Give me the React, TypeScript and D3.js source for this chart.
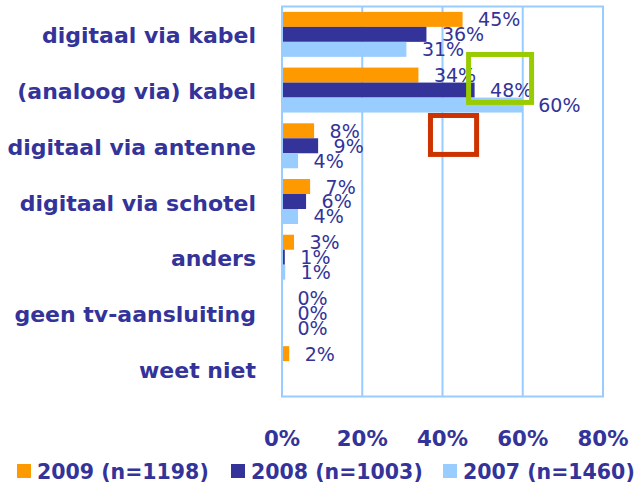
import React, { useEffect, useRef } from 'react';
import * as d3 from 'd3';

// categories (top to bottom)
const categories = [
  'digitaal via kabel',
  '(analoog via) kabel',
  'digitaal via antenne',
  'digitaal via schotel',
  'anders',
  'geen tv-aansluiting',
  'weet niet',
];

const seriesNames = ['2009 (n=1198)', '2008 (n=1003)', '2007 (n=1460)'];
const seriesColors = ['#ff9900', '#333399', '#99ccff'];

// percentages per series, null = not shown
const values2009: (number | null)[] = [45, 34, 8, 7, 3, 0, 1.8];
const values2008: (number | null)[] = [36, 48, 9, 6, 0.7, 0, null];
const values2007: (number | null)[] = [31, 60, 4, 4, 0.8, 0, null];

const xTicks = [0, 20, 40, 60, 80];

// highlight boxes: x in %, y as fraction of the category band
const highlights = [
  { category: '(analoog via) kabel', x0: 46.5, x1: 62.2, y0: -0.139, y1: 0.722, color: '#99cc00' },
  { category: 'digitaal via antenne', x0: 37.0, x1: 48.5, y0: -0.044, y1: 0.655, color: '#cc3300' },
];

const W = 642;
const H = 488;
const TEXT = '#333399';
const GRID = '#99ccff';
const FONT = '"DejaVu Sans", sans-serif';

export default function App() {
  const svgRef = useRef<SVGSVGElement>(null);

  useEffect(() => {
    if (!svgRef.current) return;
    const svg = d3.select(svgRef.current);
    svg.selectAll('*').remove();

    const plot = { left: 282, right: 603, top: 6.5, bottom: 396.5 };

    const x = d3.scaleLinear().domain([0, 80]).range([plot.left, plot.right]);
    const y = d3.scaleBand<string>()
      .domain(categories)
      .range([plot.top, plot.bottom])
      .paddingInner(0.193)
      .paddingOuter(0.0965);
    const ySub = d3.scaleBand<number>()
      .domain([0, 1, 2])
      .range([0, y.bandwidth()]);

    const series = [values2009, values2008, values2007];

    // grid lines
    svg.append('g')
      .selectAll('line')
      .data(xTicks.slice(1, -1))
      .join('line')
      .attr('x1', d => x(d))
      .attr('x2', d => x(d))
      .attr('y1', plot.top)
      .attr('y2', plot.bottom)
      .attr('stroke', GRID)
      .attr('stroke-width', 2);

    // bars
    const groups = svg.append('g')
      .selectAll('g')
      .data(categories)
      .join('g')
      .attr('transform', d => `translate(0,${y(d)})`);

    groups.each(function (cat, ci) {
      const g = d3.select(this);
      series.forEach((vals, si) => {
        const v = vals[ci];
        if (v == null) return;
        if (v > 0) {
          g.append('rect')
            .attr('x', x(0))
            .attr('y', ySub(si)!)
            .attr('width', x(v) - x(0))
            .attr('height', ySub.bandwidth())
            .attr('fill', seriesColors[si]);
        }
      });
    });

    // plot frame
    svg.append('rect')
      .attr('x', plot.left)
      .attr('y', plot.top)
      .attr('width', plot.right - plot.left)
      .attr('height', plot.bottom - plot.top)
      .attr('fill', 'none')
      .attr('stroke', GRID)
      .attr('stroke-width', 2);

    // value labels
    groups.each(function (cat, ci) {
      const g = d3.select(this);
      series.forEach((vals, si) => {
        const v = vals[ci];
        if (v == null) return;
        g.append('text')
          .attr('x', x(v) + 15.5)
          .attr('y', ySub(si)! + ySub.bandwidth() / 2 + 7)
          .attr('fill', TEXT)
          .style('font-family', FONT)
          .style('font-size', '19px')
          .text(`${Math.round(v)}%`);
      });
    });

    // category labels
    svg.append('g')
      .selectAll('text')
      .data(categories)
      .join('text')
      .attr('x', 256)
      .attr('y', d => y(d)! + y.bandwidth() / 2 + 9)
      .attr('text-anchor', 'end')
      .attr('fill', TEXT)
      .style('font-family', FONT)
      .style('font-weight', 'bold')
      .style('font-size', '22px')
      .text(d => d);

    // x tick labels
    svg.append('g')
      .selectAll('text')
      .data(xTicks)
      .join('text')
      .attr('x', d => x(d))
      .attr('y', 445.5)
      .attr('text-anchor', 'middle')
      .attr('fill', TEXT)
      .style('font-family', FONT)
      .style('font-weight', 'bold')
      .style('font-size', '21.3px')
      .text(d => `${d}%`);

    // highlight boxes
    svg.append('g')
      .selectAll('rect')
      .data(highlights)
      .join('rect')
      .attr('x', d => x(d.x0))
      .attr('y', d => y(d.category)! - y.step() * y.paddingInner() / 2 + d.y0 * y.step())
      .attr('width', d => x(d.x1) - x(d.x0))
      .attr('height', d => (d.y1 - d.y0) * y.step())
      .attr('fill', 'none')
      .attr('stroke', d => d.color)
      .attr('stroke-width', 5);

    // legend
    const legendX = [17, 231, 443];
    const legend = svg.append('g')
      .selectAll('g')
      .data(seriesNames)
      .join('g')
      .attr('transform', (d, i) => `translate(${legendX[i]},464)`);
    legend.append('rect')
      .attr('width', 14)
      .attr('height', 14)
      .attr('fill', (d, i) => seriesColors[i]);
    legend.append('text')
      .attr('x', 20)
      .attr('y', 15)
      .attr('fill', TEXT)
      .style('font-family', FONT)
      .style('font-weight', 'bold')
      .style('font-size', '20.5px')
      .text(d => d);
  }, []);

  return (
    <svg
      ref={svgRef}
      width={W}
      height={H}
      style={{ position: 'absolute', left: 0, top: 0, background: '#ffffff' }}
    />
  );
}
